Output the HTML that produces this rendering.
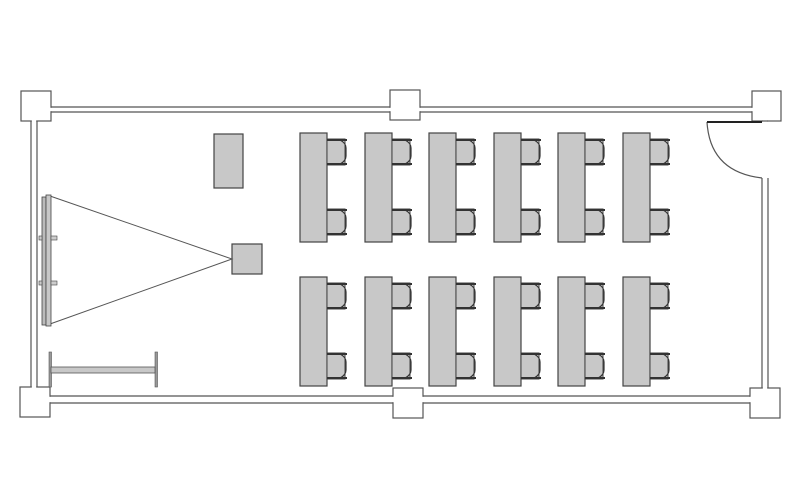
<!DOCTYPE html>
<html><head><meta charset="utf-8"><style>html,body{margin:0;padding:0;background:#fff;}svg{display:block}</style></head>
<body>
<svg width="800" height="490" viewBox="0 0 800 490" xmlns="http://www.w3.org/2000/svg">
<g fill="#fff" stroke="#555" stroke-width="1.2">
<rect x="21" y="91" width="30" height="30"/>
<rect x="20" y="387" width="30" height="30"/>
<rect x="390" y="90" width="30" height="30"/>
<rect x="393" y="388" width="30" height="30"/>
<rect x="752" y="91" width="29" height="30"/>
<rect x="750" y="388" width="30" height="30"/>
</g>
<!-- white bands to open pillars -->
<g fill="#fff" stroke="none">
<rect x="48" y="107.8" width="345" height="3.4"/>
<rect x="417" y="107.8" width="338" height="3.4"/>
<rect x="47" y="396.8" width="349" height="5.4"/>
<rect x="420" y="396.8" width="333" height="5.4"/>
<rect x="31.8" y="118" width="4.4" height="272"/>
<rect x="762.8" y="118" width="4.4" height="273"/>
</g>
<g fill="none" stroke="#555" stroke-width="1.2">
<line x1="51" y1="107" x2="390" y2="107"/><line x1="51" y1="112" x2="390" y2="112"/>
<line x1="420" y1="107" x2="752" y2="107"/><line x1="420" y1="112" x2="752" y2="112"/>
<line x1="50" y1="396" x2="393" y2="396"/><line x1="50" y1="403" x2="393" y2="403"/>
<line x1="423" y1="396" x2="750" y2="396"/><line x1="423" y1="403" x2="750" y2="403"/>
<line x1="31" y1="121" x2="31" y2="387"/><line x1="37" y1="121" x2="37" y2="387"/>
<line x1="762" y1="178" x2="762" y2="388"/><line x1="768" y1="178" x2="768" y2="388"/>
<line x1="762" y1="121" x2="768" y2="121"/>
<path d="M707 122 Q710 172 762 178"/>
</g>
<line x1="707" y1="122" x2="762" y2="122" stroke="#222" stroke-width="2"/>
<rect x="214" y="134" width="29" height="54" fill="#c8c8c8" stroke="#444" stroke-width="1.2"/>
<rect x="232" y="244" width="30" height="30" fill="#c8c8c8" stroke="#444" stroke-width="1.2"/>
<path d="M50 196 L232 259 L50 324" fill="none" stroke="#555" stroke-width="1"/>
<rect x="42" y="197" width="4" height="128" fill="#bbb" stroke="#444" stroke-width="0.8"/>
<rect x="46" y="195" width="5" height="131" fill="#c8c8c8" stroke="#444" stroke-width="0.8"/>
<rect x="39" y="236" width="3" height="4" fill="#ccc" stroke="#444" stroke-width="0.6"/>
<rect x="51" y="236" width="6" height="4" fill="#ccc" stroke="#444" stroke-width="0.6"/>
<rect x="39" y="281" width="3" height="4" fill="#ccc" stroke="#444" stroke-width="0.6"/>
<rect x="51" y="281" width="6" height="4" fill="#ccc" stroke="#444" stroke-width="0.6"/>
<rect x="49" y="352" width="2.5" height="35" fill="#999" stroke="#555" stroke-width="0.6"/>
<rect x="155" y="352" width="2.5" height="35" fill="#999" stroke="#555" stroke-width="0.6"/>
<rect x="51" y="367" width="104" height="6" fill="#c8c8c8" stroke="#555" stroke-width="0.8"/>
<defs>
<g id="chair">
<rect x="0" y="0" width="18" height="26" fill="#c8c8c8" stroke="#444" stroke-width="1"/>
<line x1="0" y1="1" x2="20" y2="1" stroke="#333" stroke-width="2"/>
<line x1="0" y1="25" x2="20" y2="25" stroke="#333" stroke-width="2"/>
<path d="M13 1 Q19 4 19 9 V17 Q19 22 13 25" fill="none" stroke="#333" stroke-width="1.2"/>
</g>
<g id="unit">
<rect x="0" y="0" width="27" height="109" fill="#c8c8c8" stroke="#444" stroke-width="1.2"/>
<use href="#chair" x="27" y="6"/>
<use href="#chair" x="27" y="76"/>
</g>
</defs>
<use href="#unit" x="300" y="133"/><use href="#unit" x="365" y="133"/><use href="#unit" x="429" y="133"/>
<use href="#unit" x="494" y="133"/><use href="#unit" x="558" y="133"/><use href="#unit" x="623" y="133"/>
<use href="#unit" x="300" y="277"/><use href="#unit" x="365" y="277"/><use href="#unit" x="429" y="277"/>
<use href="#unit" x="494" y="277"/><use href="#unit" x="558" y="277"/><use href="#unit" x="623" y="277"/>
</svg>
</body></html>
